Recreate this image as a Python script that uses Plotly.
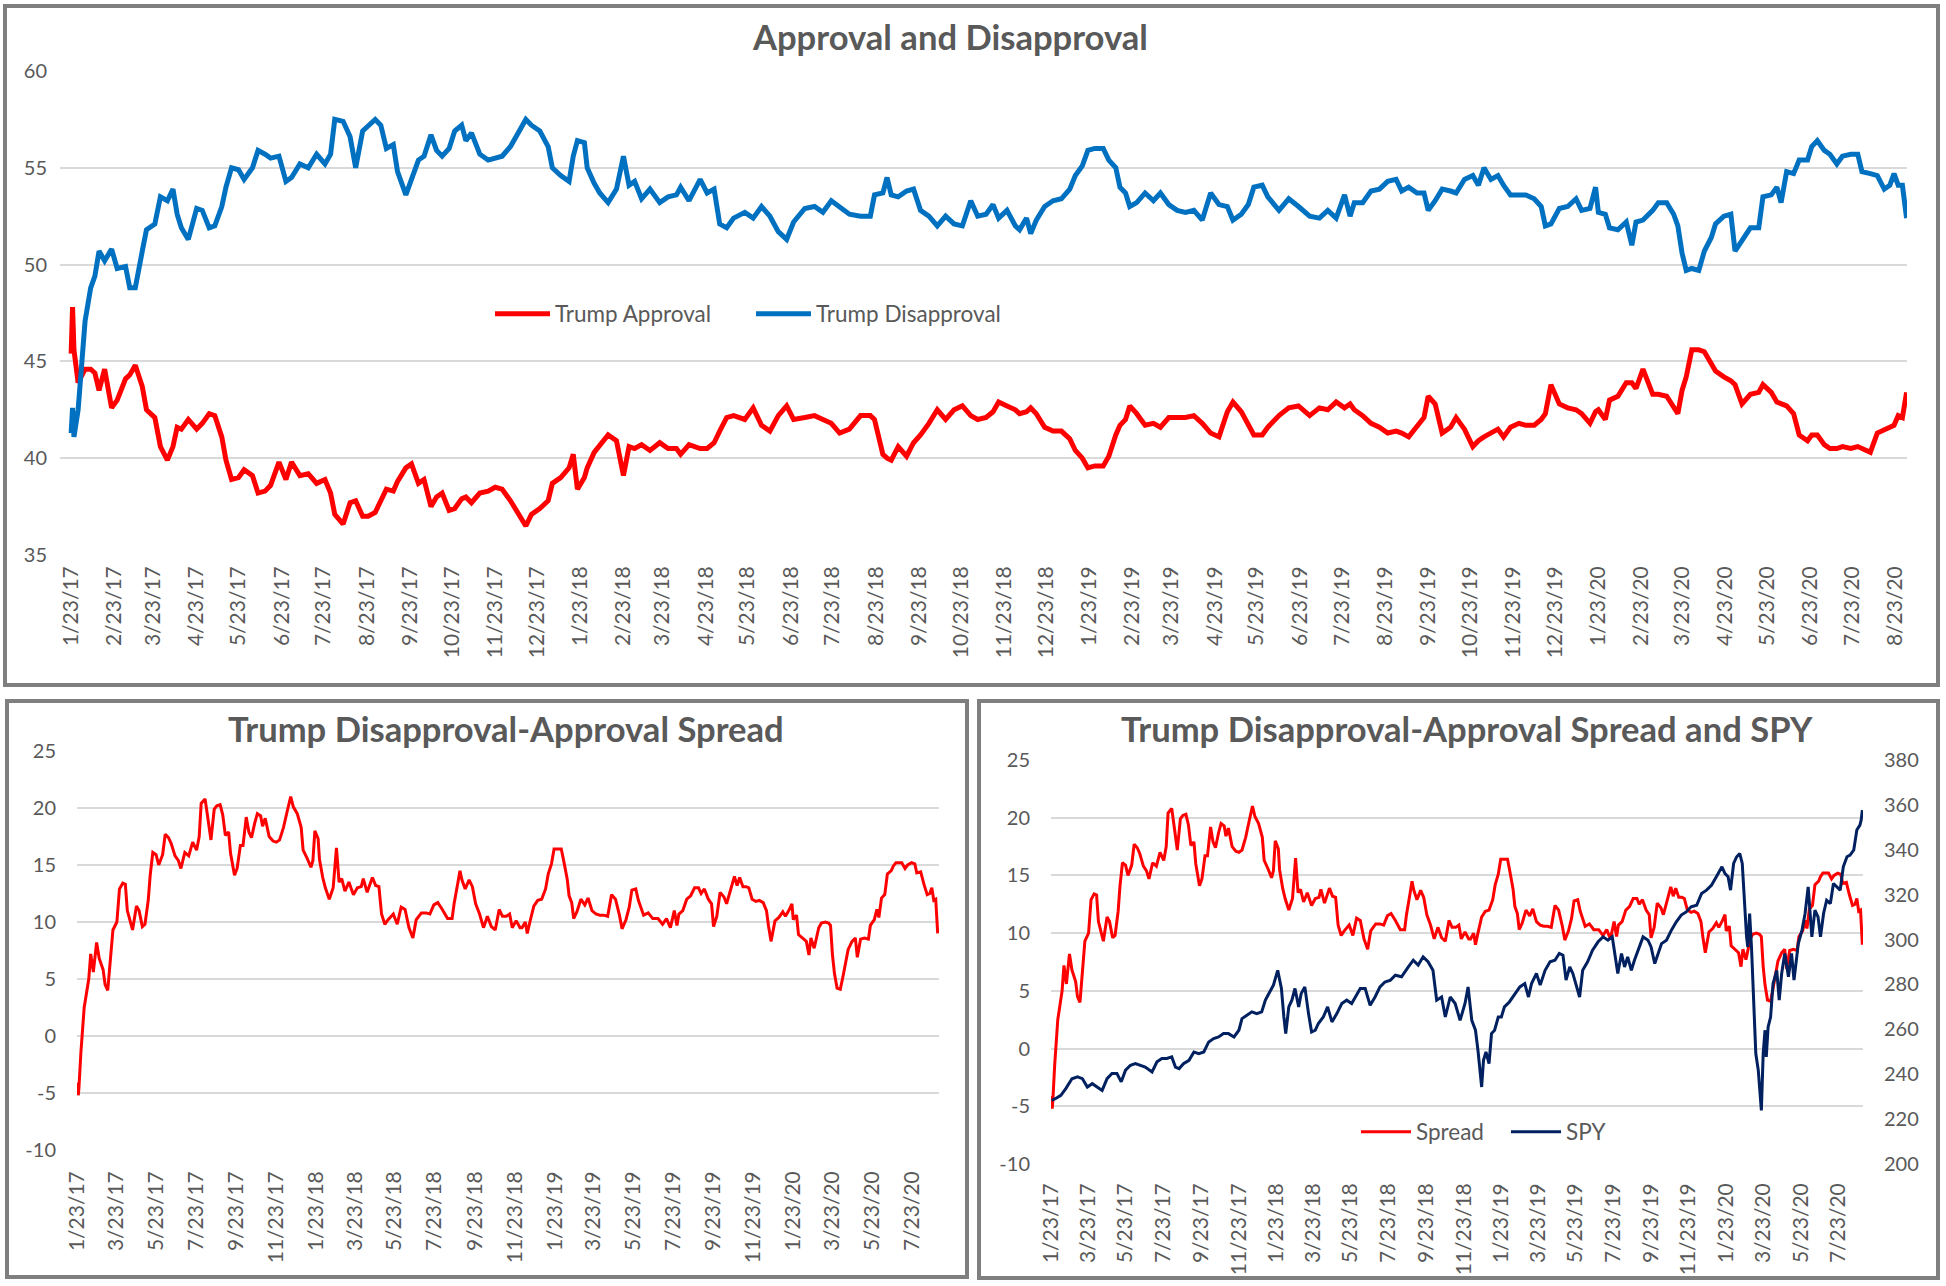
import pandas as pd
import plotly.graph_objects as go

# ---------------- data ----------------
BASE_DATE = "2017-01-23"

poll_days = [0, 1, 2, 5, 10, 14, 17, 20, 24, 29, 33, 39, 42, 46, 51, 54, 60, 64, 69, 73, 76, 79, 84, 90, 94, 99, 103,
             108, 111, 115, 120, 124, 130, 134, 139, 143, 149, 154, 158, 164, 170, 176, 182, 186, 189, 195, 200, 204,
             209, 213, 218, 222, 226, 231, 234, 240, 244, 249, 253, 258, 262, 266, 271, 275, 280, 283, 287, 293, 299,
             304, 309, 315, 321, 326, 330, 336, 342, 345, 351, 357, 360, 363, 368, 370, 375, 379, 385, 391, 396, 400,
             404, 409, 415, 422, 428, 434, 437, 443, 451, 456, 461, 465, 470, 475, 483, 489, 495, 501, 507, 513, 518,
             526, 533, 539, 545, 551, 558, 566, 573, 576, 582, 585, 588, 593, 599, 604, 609, 615, 621, 627, 633, 639,
             645, 650, 656, 661, 665, 671, 677, 680, 685, 688, 692, 698, 704, 710, 716, 720, 725, 729, 734, 740, 744,
             749, 752, 756, 759, 764, 770, 776, 781, 787, 793, 799, 805, 811, 817, 823, 829, 833, 839, 844, 848, 854,
             858, 866, 873, 880, 888, 895, 901, 907, 913, 917, 920, 926, 932, 938, 944, 950, 954, 959, 965, 970, 973,
             978, 983, 989, 993, 999, 1005, 1009, 1013, 1018, 1023, 1027, 1032, 1038, 1043, 1049, 1054, 1057, 1061,
             1067, 1073, 1079, 1083, 1089, 1093, 1095, 1100, 1103, 1109, 1115, 1119, 1122, 1127, 1134, 1138, 1144,
             1149, 1152, 1155, 1158, 1162, 1167, 1171, 1176, 1179, 1185, 1190, 1193, 1198, 1204, 1210, 1213, 1219,
             1223, 1226, 1230, 1235, 1239, 1245, 1248, 1252, 1257, 1261, 1266, 1270, 1276, 1281, 1284, 1290, 1295,
             1300, 1304, 1307, 1310, 1313, 1316]

approval = [45.4, 47.8, 45.6, 43.9, 44.6, 44.6, 44.4, 43.5, 44.6, 42.6, 43.0, 44.1, 44.3, 44.8, 43.7, 42.5, 42.1, 40.6,
            39.9, 40.6, 41.6, 41.5, 42.0, 41.5, 41.8, 42.3, 42.2, 41.1, 39.9, 38.9, 39.0, 39.4, 39.1, 38.2, 38.3, 38.6,
            39.8, 38.9, 39.8, 39.1, 39.2, 38.7, 38.9, 38.2, 37.1, 36.6, 37.7, 37.8, 37.0, 37.0, 37.2, 37.8, 38.4, 38.3,
            38.8, 39.5, 39.7, 38.7, 38.9, 37.5, 38.0, 38.2, 37.3, 37.4, 37.9, 38.0, 37.7, 38.2, 38.3, 38.5, 38.4, 37.8,
            37.1, 36.5, 37.1, 37.4, 37.8, 38.7, 39.0, 39.5, 40.2, 38.4, 39.0, 39.5, 40.3, 40.7, 41.2, 40.9, 39.1, 40.6,
            40.5, 40.7, 40.4, 40.8, 40.5, 40.5, 40.2, 40.7, 40.5, 40.5, 40.8, 41.4, 42.1, 42.2, 42.0, 42.6, 41.7, 41.4,
            42.2, 42.7, 42.0, 42.1, 42.2, 42.0, 41.8, 41.3, 41.5, 42.2, 42.2, 42.0, 40.2, 40.0, 39.9, 40.6, 40.1, 40.8,
            41.2, 41.8, 42.5, 42.0, 42.5, 42.7, 42.2, 42.0, 42.1, 42.4, 42.9, 42.7, 42.5, 42.3, 42.4, 42.6, 42.3, 41.6,
            41.4, 41.4, 41.0, 40.4, 40.0, 39.5, 39.6, 39.6, 40.1, 41.2, 41.7, 42.0, 42.7, 42.3, 41.7, 41.8, 41.6, 42.1,
            42.1, 42.1, 42.2, 41.8, 41.3, 41.1, 42.4, 42.9, 42.4, 41.8, 41.2, 41.2, 41.6, 42.2, 42.6, 42.7, 42.2, 42.6,
            42.5, 42.9, 42.6, 42.8, 42.5, 42.2, 41.8, 41.6, 41.3, 41.4, 41.3, 41.1, 41.7, 42.1, 43.2, 42.8, 41.3, 41.6,
            42.1, 41.5, 40.6, 40.9, 41.1, 41.3, 41.5, 41.1, 41.6, 41.8, 41.7, 41.7, 42.0, 42.3, 43.8, 42.8, 42.6, 42.5,
            42.3, 41.8, 42.4, 42.5, 42.0, 43.0, 43.2, 43.9, 43.9, 43.6, 44.6, 43.3, 43.3, 43.2, 42.7, 42.3, 43.5, 44.2,
            45.6, 45.6, 45.5, 44.8, 44.5, 44.2, 44.0, 43.8, 42.8, 43.3, 43.4, 43.8, 43.4, 42.9, 42.8, 42.7, 42.3, 41.2,
            40.9, 41.2, 41.2, 40.7, 40.5, 40.5, 40.6, 40.5, 40.6, 40.5, 40.3, 41.3, 41.5, 41.6, 41.7, 42.2, 42.1, 43.4]

disapproval = [41.3, 42.6, 41.1, 42.5, 47.1, 48.8, 49.4, 50.7, 50.2, 50.8, 49.8, 49.9, 48.8, 48.8, 50.7, 51.8, 52.1,
               53.5, 53.3, 53.9, 52.6, 51.9, 51.3, 52.9, 52.8, 51.9, 52.0, 53.0, 54.0, 55.0, 54.9, 54.4, 55.0, 55.9,
               55.7, 55.5, 55.6, 54.3, 54.5, 55.2, 55.0, 55.7, 55.2, 55.7, 57.5, 57.4, 56.6, 55.0, 56.9, 57.2, 57.5,
               57.2, 56.0, 56.2, 54.8, 53.6, 54.4, 55.4, 55.6, 56.7, 55.9, 55.6, 56.0, 56.9, 57.2, 56.4, 56.8, 55.7,
               55.4, 55.5, 55.6, 56.1, 56.9, 57.5, 57.2, 56.9, 56.1, 55.0, 54.6, 54.3, 55.6, 56.4, 56.3, 55.0, 54.2,
               53.7, 53.2, 53.9, 55.6, 54.1, 54.3, 53.4, 53.9, 53.2, 53.5, 53.6, 54.0, 53.3, 54.4, 53.7, 53.9, 52.1,
               51.9, 52.4, 52.7, 52.4, 53.0, 52.5, 51.7, 51.3, 52.2, 52.9, 53.0, 52.7, 53.3, 53.0, 52.6, 52.5, 52.5,
               53.6, 53.7, 54.5, 53.6, 53.5, 53.8, 53.9, 52.8, 52.5, 52.0, 52.5, 52.1, 52.0, 53.3, 52.5, 52.6, 53.1,
               52.4, 52.8, 52.0, 51.8, 52.4, 51.6, 52.3, 53.0, 53.3, 53.4, 53.9, 54.6, 55.1, 55.9, 56.0, 56.0, 55.4,
               55.0, 54.0, 53.7, 53.0, 53.2, 53.7, 53.3, 53.7, 53.1, 52.8, 52.7, 52.8, 52.3, 53.7, 53.1, 53.0, 52.3,
               52.6, 53.1, 54.0, 54.1, 53.5, 52.8, 53.4, 53.0, 52.5, 52.4, 52.8, 52.4, 53.6, 52.5, 53.2, 53.2, 53.8,
               53.9, 54.3, 54.4, 53.8, 54.0, 53.7, 53.7, 52.8, 53.3, 53.9, 53.8, 53.7, 54.4, 54.6, 54.1, 55.0, 54.4,
               54.6, 54.1, 53.6, 53.6, 53.6, 53.4, 53.0, 52.0, 52.1, 52.9, 53.0, 53.4, 52.8, 52.9, 54.0, 52.7, 52.6,
               51.9, 51.8, 52.2, 51.0, 52.2, 52.3, 52.8, 53.2, 53.2, 52.6, 52.0, 50.6, 49.7, 49.8, 49.7, 50.7, 51.4,
               52.1, 52.5, 52.6, 50.7, 51.3, 51.9, 51.9, 53.5, 53.6, 54.0, 53.2, 54.8, 54.7, 55.4, 55.4, 56.1, 56.4,
               55.9, 55.7, 55.2, 55.6, 55.7, 55.7, 54.8, 54.7, 54.6, 53.9, 54.1, 54.7, 54.1, 54.1, 52.4]

spy_days = [0, 6, 15, 23, 33, 42, 50, 58, 66, 74, 82, 90, 98, 106, 113, 120, 128, 136, 144, 152, 163, 171, 179, 187,
            195, 201, 207, 214, 223, 231, 239, 247, 255, 263, 271, 279, 287, 296, 304, 309, 317, 325, 333, 341, 347,
            355, 360, 367, 373, 377, 380, 385, 390, 395, 401, 405, 411, 417, 422, 428, 433, 441, 448, 455, 463, 471,
            479, 487, 493, 501, 509, 517, 525, 533, 541, 550, 558, 568, 579, 587, 595, 603, 611, 619, 625, 633, 639,
            647, 655, 663, 671, 676, 682, 688, 692, 696, 698, 701, 705, 710, 714, 719, 725, 730, 735, 743, 752, 760,
            768, 774, 779, 787, 793, 801, 809, 817, 824, 830, 835, 841, 846, 852, 857, 862, 870, 878, 887, 895, 903,
            910, 914, 919, 925, 930, 935, 941, 946, 954, 960, 968, 973, 979, 984, 990, 998, 1006, 1014, 1022, 1030,
            1038, 1047, 1055, 1063, 1071, 1079, 1088, 1093, 1098, 1102, 1107, 1112, 1117, 1121, 1125, 1128, 1130,
            1133, 1136, 1140, 1143, 1147, 1149, 1152, 1155, 1158, 1160, 1163, 1167, 1171, 1177, 1181, 1185, 1190,
            1196, 1201, 1205, 1212, 1218, 1223, 1228, 1234, 1239, 1244, 1248, 1253, 1258, 1264, 1269, 1274, 1280,
            1285, 1291, 1296, 1302, 1307, 1312, 1314, 1316]

spy = [228.4, 229.1, 230.6, 233.6, 238.0, 238.8, 238.0, 234.3, 235.8, 234.3, 232.8, 238.0, 240.3, 240.3, 236.6,
       241.8, 244.0, 244.7, 244.0, 243.2, 241.0, 245.5, 247.0, 247.0, 247.7, 243.2, 242.5, 244.7, 246.2, 249.9,
       249.2, 249.9, 254.4, 255.9, 256.6, 258.1, 258.1, 256.6, 259.6, 264.8, 266.3, 267.8, 267.0, 267.8, 273.0,
       277.4, 279.7, 286.3, 278.2, 265.5, 258.1, 270.0, 273.0, 278.2, 270.0, 275.9, 278.9, 267.0, 258.8, 259.6,
       262.6, 265.5, 270.0, 263.3, 267.0, 271.5, 273.0, 271.5, 274.4, 278.2, 278.2, 270.7, 274.4, 278.9, 281.1,
       281.9, 284.1, 283.4, 287.8, 290.8, 288.6, 292.3, 290.1, 286.3, 273.0, 274.4, 265.5, 274.4, 271.5, 264.0,
       271.5, 278.9, 264.0, 259.6, 250.7, 240.3, 234.3, 246.2, 249.9, 244.7, 258.1, 259.6, 265.5, 265.5, 270.0,
       272.2, 275.9, 278.9, 280.4, 274.4, 280.4, 284.9, 279.7, 286.3, 290.1, 290.8, 293.8, 293.0, 281.9, 287.8,
       284.9, 278.9, 274.4, 286.3, 290.1, 295.3, 299.0, 301.2, 299.7, 301.2, 293.8, 284.9, 293.8, 287.8, 292.3,
       286.3, 290.8, 296.7, 301.2, 299.7, 296.7, 289.3, 293.8, 298.2, 299.7, 304.2, 307.9, 310.9, 312.3, 314.6,
       315.3, 320.5, 322.0, 324.2, 328.0, 332.4, 329.4, 328.0, 322.0, 333.9, 336.9, 338.3, 333.9, 314.6, 301.2,
       296.7, 311.6, 296.7, 270.0, 249.2, 241.8, 235.8, 223.9, 249.2, 259.6, 247.7, 261.1, 265.5, 280.4, 286.3,
       273.0, 284.9, 293.8, 283.4, 293.8, 281.9, 298.2, 304.2, 311.6, 323.5, 301.2, 313.1, 310.1, 301.2, 311.6,
       317.5, 316.0, 325.0, 323.5, 322.0, 332.4, 336.9, 337.6, 339.9, 348.8, 351.0, 353.2, 357.7]

left_ticks_top = [35, 40, 45, 50, 55, 60]
left_ticks_spread = [-10, -5, 0, 5, 10, 15, 20, 25]
right_ticks_spy = [200, 220, 240, 260, 280, 300, 320, 340, 360, 380]

# ---------------- derived ----------------
base = pd.Timestamp(BASE_DATE)
poll_dates = base + pd.to_timedelta(poll_days, unit="D")
spy_dates = base + pd.to_timedelta(spy_days, unit="D")
spread = [round(d - a, 1) for a, d in zip(approval, disapproval)]

month_ticks = [pd.Timestamp(year=y, month=m, day=23)
               for y in range(2017, 2021) for m in range(1, 13)
               if pd.Timestamp(year=y, month=m, day=23) <= pd.Timestamp("2020-08-23")]
month_text = [f"{d.month}/{d.day}/{d.strftime('%y')}" for d in month_ticks]
bi_ticks = month_ticks[::2]
bi_text = month_text[::2]

W, H = 1946, 1286
def fx(x):
    return x / W
def fy(y):
    return 1 - y / H

FONT = "Lato"
TXT = "#595959"
GRID = "#D9D9D9"
RED = "#FF0000"
BLUE = "#0070C0"
NAVY = "#002060"

fig = go.Figure()
fig.add_trace(go.Scatter(x=poll_dates, y=approval, name="Trump Approval", mode="lines",
                         line=dict(color=RED, width=5), xaxis="x", yaxis="y", legend="legend"))
fig.add_trace(go.Scatter(x=poll_dates, y=disapproval, name="Trump Disapproval", mode="lines",
                         line=dict(color=BLUE, width=5), xaxis="x", yaxis="y", legend="legend"))
fig.add_trace(go.Scatter(x=poll_dates, y=spread, name="Spread", mode="lines", showlegend=False,
                         line=dict(color=RED, width=3), xaxis="x2", yaxis="y2"))
fig.add_trace(go.Scatter(x=poll_dates, y=spread, name="Spread", mode="lines",
                         line=dict(color=RED, width=3), xaxis="x3", yaxis="y3", legend="legend2"))
fig.add_trace(go.Scatter(x=spy_dates, y=spy, name="SPY", mode="lines",
                         line=dict(color=NAVY, width=3), xaxis="x3", yaxis="y4", legend="legend2"))

xtickfont = dict(family=FONT, size=21, color=TXT)
ytickfont = dict(family=FONT, size=20, color=TXT)

def xax(domain, anchor, rng, tv, tt, standoff):
    return dict(domain=domain, anchor=anchor, type="date", range=rng, tickvals=tv, ticktext=tt,
                tickangle=-90, tickfont=xtickfont, showgrid=False, zeroline=False, showline=False,
                ticks="", ticklabelstandoff=standoff, fixedrange=True, automargin=False)

def yax(domain, anchor, rng, tv, standoff, grid=True):
    return dict(domain=domain, anchor=anchor, range=rng, tickvals=tv, ticktext=[str(v) for v in tv],
                tickfont=ytickfont, showgrid=grid, gridcolor=GRID, gridwidth=2, zeroline=False,
                showline=False, ticks="", ticklabelstandoff=standoff, fixedrange=True, automargin=False)

day = pd.Timedelta(days=1)
fig.update_layout(
    template="none",
    width=W, height=H, margin=dict(l=0, r=0, t=0, b=0, pad=0, autoexpand=False),
    paper_bgcolor="white", plot_bgcolor="white",
    xaxis=xax([fx(60), fx(1907)], "y", [base - 8 * day, base + 1316.3 * day], month_ticks, month_text, 6),
    yaxis=yax([fy(555), fy(71)], "x", [35, 60], left_ticks_top, 12),
    xaxis2=xax([fx(77), fx(939)], "y2", [base - 1 * day, base + 1318 * day], bi_ticks, bi_text, 16),
    yaxis2=yax([fy(1150), fy(751)], "x2", [-10, 25], left_ticks_spread, 20),
    xaxis3=xax([fx(1051), fx(1863)], "y3", [base - 1 * day, base + 1317 * day], bi_ticks, bi_text, 14),
    yaxis3=yax([fy(1164), fy(760)], "x3", [-10, 25], left_ticks_spread, 20),
    yaxis4=dict(overlaying="y3", anchor="x3", side="right", range=[200, 380], tickvals=right_ticks_spy,
                ticktext=[str(v) for v in right_ticks_spy], tickfont=ytickfont, showgrid=False,
                zeroline=False, showline=False, ticks="", ticklabelstandoff=20, fixedrange=True,
                automargin=False),
    legend=dict(orientation="h", x=fx(490), y=fy(314), xanchor="left", yanchor="middle",
                font=dict(family=FONT, size=22.5, color=TXT), bgcolor="rgba(0,0,0,0)",
                itemwidth=55, entrywidth=191, entrywidthmode="pixels", tracegroupgap=0),
    legend2=dict(orientation="h", x=fx(1356), y=fy(1132), xanchor="left", yanchor="middle",
                 font=dict(family=FONT, size=22.5, color=TXT), bgcolor="rgba(0,0,0,0)",
                 itemwidth=50, entrywidth=85, entrywidthmode="pixels"),
    showlegend=True,
    hovermode=False,
)

title_font = dict(family=FONT, size=34.6, color=TXT, weight="bold")
titles = [("Approval and Disapproval", 950, 37),
          ("Trump Disapproval-Approval Spread", 506, 728),
          ("Trump Disapproval-Approval Spread and SPY", 1467, 728)]
for text, cx, cy in titles:
    fig.add_annotation(text=text, x=fx(cx), y=fy(cy), xref="paper", yref="paper",
                       xanchor="center", yanchor="middle", showarrow=False, font=title_font)

BORDER = "#7F7F7F"
panels = [(5, 6, 1938, 685), (7, 701, 967, 1277), (979, 701, 1938, 1278)]
for x0, y0, x1, y1 in panels:
    fig.add_shape(type="rect", xref="paper", yref="paper", x0=fx(x0), x1=fx(x1), y0=fy(y0), y1=fy(y1),
                  line=dict(color=BORDER, width=4), fillcolor="rgba(0,0,0,0)", layer="above")

fig.write_html("out.html", config={"displayModeBar": False},
               post_script="document.body.style.margin='0';document.body.style.overflow='hidden';")
